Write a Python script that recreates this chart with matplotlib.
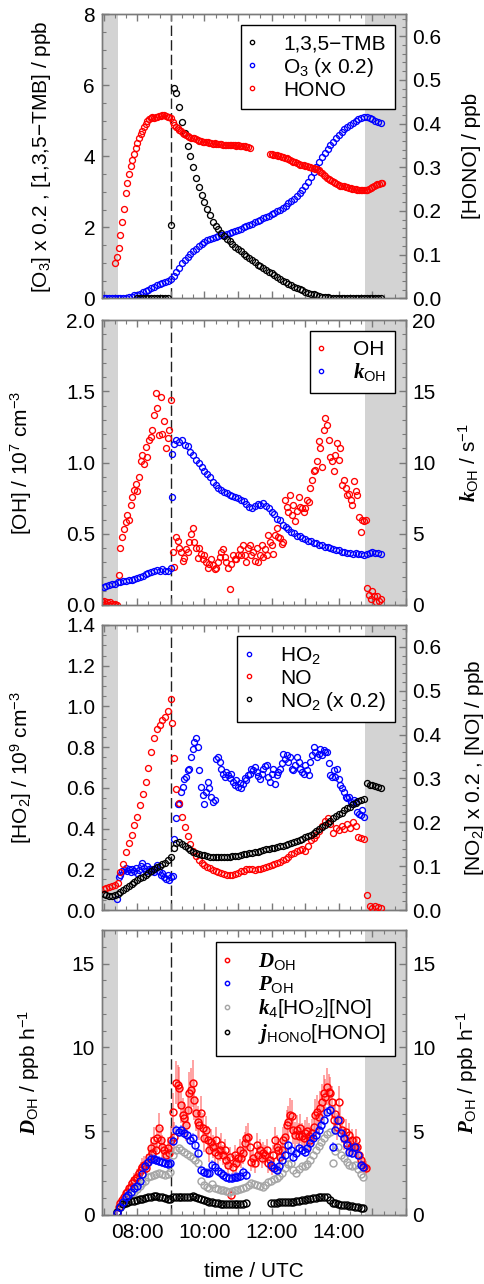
import matplotlib
matplotlib.use('Agg')
import matplotlib.pyplot as plt
import numpy as np
from matplotlib.ticker import MultipleLocator, FuncFormatter, FormatStrFormatter

plt.rcParams['font.family'] = ['Liberation Sans', 'DejaVu Sans']
plt.rcParams['font.size'] = 15
plt.rcParams['mathtext.fontset'] = 'custom'
plt.rcParams['mathtext.rm'] = 'Liberation Sans'
plt.rcParams['mathtext.it'] = 'Liberation Serif:italic:bold'
plt.rcParams['mathtext.bf'] = 'Liberation Sans:bold'

#--------------------------------------------------------------------------
#   Data (time in hours UTC, regular sampling per series)
#--------------------------------------------------------------------------
step5 = 1 / 12      # 5 min
step3 = 0.05        # 3 min

# panel 1 : O3 (x 0.2) and 1,3,5-TMB in ppb, HONO in ppb (right axis)
o3_t0 = 7.0
o3 = [0.00, 0.00, 0.00, 0.00, 0.00, 0.00, 0.00, 0.01, 0.02, 0.03, 0.05, 0.08,
      0.10, 0.13, 0.17, 0.20, 0.24, 0.29, 0.33, 0.37, 0.40, 0.43, 0.46, 0.50,
      0.54, 0.62, 0.74, 0.86, 0.99, 1.09, 1.17, 1.26, 1.33, 1.40, 1.46, 1.52,
      1.58, 1.63, 1.67, 1.71, 1.74, 1.76, 1.78, 1.79, 1.80, 1.83, 1.86, 1.89,
      1.93, 1.96, 2.00, 2.03, 2.07, 2.10, 2.14, 2.18, 2.21, 2.25, 2.29, 2.33,
      2.37, 2.41, 2.45, 2.50, 2.55, 2.61, 2.68, 2.74, 2.81, 2.89, 2.97, 3.06,
      3.16, 3.28, 3.41, 3.55, 3.70, 3.85, 3.97, 4.09, 4.20, 4.31, 4.41, 4.51,
      4.60, 4.68, 4.76, 4.83, 4.89, 4.95, 5.00, 5.05, 5.09, 5.11, 5.10, 5.07,
      5.04, 5.00, 4.97, 4.95]

tmb_t0 = 8.0
tmb = [0, 0, 0, 0, 0, 0, 0, 0, 0, 0, 0, 0,
       2.06, 5.92, 5.78, 5.40, 4.97, 4.66, 4.30, 4.02, 3.70, 3.40, 3.13, 2.92,
       2.70, 2.52, 2.35, 2.16, 2.05, 1.95, 1.85, 1.76, 1.68, 1.60, 1.52, 1.45,
       1.38, 1.32, 1.26, 1.20, 1.14, 1.08, 1.01, 0.95, 0.90, 0.85, 0.80, 0.75,
       0.70, 0.65, 0.60, 0.55, 0.50, 0.45, 0.41, 0.37, 0.33, 0.29, 0.25, 0.22,
       0.19, 0.16, 0.13, 0.11, 0.09, 0.07, 0.05, 0.04, 0.03, 0.02, 0.01, 0.01,
       0.01, 0, 0, 0, 0, 0, 0, 0, 0, 0, 0, 0,
       0, 0, 0, 0]

nan = np.nan
hono_t0 = 7.35
hono = [0.080, 0.095, 0.115, 0.145, 0.175, 0.205, 0.240, 0.265, 0.285, 0.302,
        0.316, 0.330, 0.344, 0.356, 0.366, 0.376, 0.384, 0.391, 0.398, 0.405,
        0.410, 0.413, 0.414, 0.413, 0.415, 0.416, 0.417, 0.418, 0.419, 0.420,
        0.418, 0.416, 0.414, 0.412, 0.404, 0.397, 0.392, 0.389, 0.385, 0.382,
        0.379, 0.376, 0.373, 0.371, 0.369, 0.368, 0.367, 0.366, 0.364, 0.362,
        0.360, 0.359, 0.358, 0.357, 0.358, 0.357, 0.356, 0.355, 0.354, 0.355,
        0.354, 0.353, 0.353, 0.354, 0.352, 0.352, 0.351, 0.352, 0.351, 0.350,
        0.351, 0.350, 0.349, 0.350, 0.349, 0.348, 0.349, 0.348, 0.347, 0.346,
        0.345, nan, nan, nan, nan, nan, nan, nan, nan, nan,
        nan, nan, 0.331, 0.330, 0.329, 0.328, 0.327, 0.326, 0.325, 0.324,
        0.323, 0.322, 0.320, 0.318, 0.317, 0.315, 0.313, 0.311, 0.310, 0.308,
        0.306, 0.305, 0.304, 0.303, 0.302, 0.301, 0.300, 0.299, 0.298, 0.296,
        0.295, 0.293, 0.290, 0.287, 0.283, 0.280, 0.276, 0.272, 0.270, 0.268,
        0.266, 0.264, 0.262, 0.260, 0.258, 0.257, 0.256, 0.255, 0.254, 0.253,
        0.252, 0.251, 0.250, 0.250, 0.249, 0.249, 0.248, 0.248, 0.248, 0.248,
        0.249, 0.250, 0.252, 0.255, 0.257, 0.259, 0.261, 0.262, 0.263, 0.263]

# panel 2 : OH in 1e7 cm-3, kOH in s-1 (right axis)
oh_t0 = 6.95
oh = [0.02, 0.03, 0.01, 0.02, 0.00, 0.02, 0.01, 0.00, 0.01, 0.00,
      0.21, 0.40, 0.48, 0.53, 0.58, 0.63, 0.60, 0.70, 0.76, 0.81,
      0.85, 0.80, 0.90, 1.01, 1.05, 0.99, 1.11, 1.04, 1.16, 1.18,
      1.23, 1.33, 1.49, 1.38, 1.19, 1.46, 1.20, 1.29, 1.10, 1.17,
      1.23, 1.44, 0.37, 0.27, 0.48, 0.45, 0.40, 0.37, 0.31, 0.33,
      0.39, 0.37, 0.44, 0.50, 0.54, 0.44, 0.40, 0.33, 0.40, 0.36,
      0.32, 0.35, 0.30, 0.26, 0.29, 0.32, 0.28, 0.25, 0.26, 0.30,
      0.34, 0.37, 0.39, 0.34, 0.30, 0.26, 0.11, 0.29, 0.35, 0.32,
      0.32, 0.35, 0.39, 0.35, 0.42, 0.35, 0.30, 0.40, 0.42, 0.35,
      0.37, 0.31, 0.40, 0.30, 0.35, 0.42, 0.34, 0.39, 0.35, 0.49,
      0.44, 0.42, 0.36, 0.49, 0.54, 0.48, 0.47, 0.43, 0.44, 0.74,
      0.69, 0.65, 0.77, 0.63, 0.70, 0.59, 0.66, 0.76, 0.69, 0.68,
      0.65, 0.68, 0.74, 0.72, 0.82, 0.88, 0.94, 0.95, 1.01, 1.15,
      1.10, 0.97, 1.23, 1.31, 1.26, 1.16, 1.04, 1.01, 0.94, 1.05,
      1.14, 1.02, 1.10, 0.84, 0.88, 0.82, 0.77, 0.78, 0.74, 0.70,
      0.87, 0.80, 0.77, 0.62, 0.51, 0.60, 0.59, 0.60, 0.12, 0.07,
      0.04, 0.10, 0.06, 0.02, 0.06, 0.03, 0.04]

koh_t0 = 7.0
koh = [1.25, 1.32, 1.38, 1.47, 1.50, 1.58, 1.60, 1.67, 1.68, 1.75, 1.77, 1.84,
       1.90, 1.98, 2.05, 2.16, 2.22, 2.33, 2.36, 2.44, 2.42, 2.50, 2.40, 2.42,
       2.60, 11.30, 11.55, 11.45, 11.60, 11.25, 11.15, 10.75, 10.55, 10.15, 9.95, 9.65,
       9.40, 9.20, 8.95, 8.60, 8.40, 8.20, 8.05, 7.95, 7.85, 7.75, 7.65, 7.55,
       7.50, 7.35, 7.30, 7.10, 6.90, 6.80, 6.95, 7.10, 7.05, 7.15, 6.95, 6.80,
       6.55, 6.40, 6.05, 5.95, 5.60, 5.45, 5.35, 5.10, 5.05, 4.85, 4.85, 4.70,
       4.65, 4.50, 4.48, 4.35, 4.35, 4.22, 4.22, 4.10, 4.08, 3.98, 3.96, 3.85,
       3.85, 3.75, 3.75, 3.66, 3.68, 3.60, 3.62, 3.55, 3.58, 3.52, 3.60, 3.66,
       3.70, 3.62, 3.66, 3.58]
koh_jump_t = [9.02, 9.03]
koh_jump = [7.6, 10.6]

# panel 3 : HO2 in 1e9 cm-3, NO and NO2 (x 0.2) in ppb (right axis)
ho2_t0 = 7.40
ho2 = [0.056, 0.162, 0.170, 0.190, 0.196, 0.205, 0.193, 0.201, 0.188, 0.200,
       0.193, 0.206, 0.180, 0.198, 0.218, 0.231, 0.206, 0.193, 0.218, 0.200,
       0.203, 0.193, 0.186, 0.206, 0.221, 0.193, 0.170, 0.180, 0.162, 0.154,
       0.170, 0.146, 0.162, 0.166, 0.350, 0.450, 0.520, 0.523, 0.580, 0.604,
       0.645, 0.654, 0.687, 0.695, 0.752, 0.793, 0.826, 0.843, 0.802, 0.687,
       0.605, 0.564, 0.523, 0.580, 0.629, 0.597, 0.556, 0.531, 0.540, 0.744,
       0.752, 0.728, 0.695, 0.670, 0.654, 0.679, 0.662, 0.646, 0.670, 0.629,
       0.613, 0.640, 0.605, 0.625, 0.597, 0.621, 0.646, 0.640, 0.662, 0.670,
       0.695, 0.690, 0.702, 0.678, 0.660, 0.645, 0.670, 0.695, 0.705, 0.711,
       0.654, 0.629, 0.670, 0.695, 0.621, 0.662, 0.678, 0.695, 0.720, 0.768,
       0.744, 0.760, 0.728, 0.752, 0.695, 0.687, 0.711, 0.752, 0.728, 0.695,
       0.678, 0.670, 0.711, 0.687, 0.662, 0.728, 0.760, 0.801, 0.776, 0.752,
       0.768, 0.793, 0.760, 0.785, 0.776, 0.776, 0.720, 0.662, 0.654, 0.687,
       0.654, 0.695, 0.645, 0.613, 0.597, 0.580, 0.556, 0.548, 0.556, 0.531,
       0.523, 0.540, 0.530, 0.482, 0.474, 0.466, 0.490, 0.457]

no_t0 = 7.0
no = [0.048, 0.050, 0.053, 0.054, 0.056, 0.062, 0.087, 0.104, 0.133, 0.152, 0.170, 0.195,
      0.212, 0.240, 0.265, 0.291, 0.323, 0.360, 0.393, 0.413, 0.422, 0.433, 0.440, 0.455,
      0.481, 0.347, 0.276, 0.245, 0.213, 0.190, 0.168, 0.150, 0.135, 0.124, 0.114, 0.107,
      0.103, 0.099, 0.095, 0.092, 0.089, 0.086, 0.084, 0.082, 0.080, 0.079, 0.079, 0.082,
      0.085, 0.088, 0.090, 0.093, 0.094, 0.093, 0.092, 0.094, 0.094, 0.096, 0.098, 0.100,
      0.102, 0.104, 0.107, 0.110, 0.114, 0.117, 0.122, 0.127, 0.131, 0.134, 0.137, 0.140,
      0.135, 0.145, 0.160, 0.165, 0.171, 0.180, 0.192, 0.203, 0.209, 0.196, 0.176, 0.186,
      0.182, 0.192, 0.185, 0.197, 0.186, 0.200, 0.192, 0.167, 0.164, 0.163, 0.034, 0.009,
      0.005, 0.008, 0.006, 0.005]
no_jump_t = [9.04]
no_jump = [0.426]

no2_t0 = 7.0
no2 = [0.036, 0.034, 0.033, 0.031, 0.034, 0.037, 0.042, 0.046, 0.050, 0.055, 0.059, 0.064,
       0.068, 0.072, 0.076, 0.080, 0.085, 0.089, 0.093, 0.097, 0.101, 0.105, 0.108, 0.113,
       0.121, 0.142, 0.153, 0.155, 0.150, 0.145, 0.141, 0.137, 0.133, 0.130, 0.128, 0.126,
       0.125, 0.124, 0.122, 0.121, 0.120, 0.120, 0.120, 0.121, 0.121, 0.122, 0.123, 0.123,
       0.124, 0.125, 0.127, 0.128, 0.130, 0.131, 0.132, 0.133, 0.135, 0.136, 0.138, 0.140,
       0.141, 0.142, 0.144, 0.145, 0.147, 0.148, 0.150, 0.152, 0.155, 0.157, 0.160, 0.163,
       0.166, 0.169, 0.172, 0.176, 0.180, 0.184, 0.189, 0.194, 0.199, 0.204, 0.209, 0.214,
       0.218, 0.222, 0.227, 0.232, 0.236, 0.241, 0.245, 0.248, 0.251, 0.253, 0.289, 0.286,
       0.284, 0.282, 0.280, 0.279]

# panel 4 : OH budget terms in ppb h-1
doh_t0 = 7.40
doh = [0.10, 0.50, 0.70, 0.90, 1.09, 1.29, 1.39, 1.59, 1.69, 1.89,
       2.09, 2.19, 2.29, 2.49, 2.68, 2.88, 2.98, 2.78, 3.08, 3.48,
       3.98, 3.68, 4.48, 3.88, 4.57, 5.17, 4.48, 4.08, 3.88, 3.58,
       3.98, 3.68, 4.50, 6.17, 4.67, 7.90, 7.76, 7.56, 6.56, 5.97,
       5.77, 5.37, 6.27, 7.26, 7.46, 7.86, 6.86, 6.07, 5.57, 5.37,
       6.07, 5.17, 4.57, 5.07, 4.48, 3.88, 4.38, 4.08, 3.78, 4.48,
       3.58, 3.88, 4.18, 3.58, 3.88, 3.28, 2.98, 3.48, 1.19, 2.88,
       3.58, 3.08, 3.38, 3.88, 3.38, 3.68, 4.28, 4.57, 4.67, 4.08,
       3.18, 3.38, 3.08, 4.18, 3.58, 3.88, 3.38, 3.68, 3.60, 3.88,
       3.08, 3.28, 2.88, 3.58, 4.48, 4.08, 3.88, 3.48, 3.88, 4.48,
       4.67, 5.37, 5.57, 5.97, 5.90, 5.07, 4.77, 5.10, 4.70, 5.17,
       4.70, 4.57, 4.87, 5.00, 4.70, 4.48, 4.90, 5.27, 5.97, 6.17,
       5.87, 6.37, 6.76, 7.26, 7.06, 7.66, 7.36, 7.26, 6.76, 5.67,
       6.00, 5.27, 6.76, 5.67, 5.07, 4.57, 4.97, 4.28, 4.77, 4.08,
       4.48, 4.08, 4.48, 4.08, 3.58, 3.28, 2.98, 2.88, 2.80]
doh_err = [0.20, 0.25, 0.25, 0.30, 0.30, 0.30, 0.35, 0.35, 0.35, 0.40,
           0.40, 0.40, 0.45, 0.45, 0.50, 0.50, 0.55, 0.50, 0.55, 0.60,
           0.70, 0.60, 0.75, 0.65, 0.80, 0.90, 0.75, 0.70, 0.65, 0.60,
           0.70, 0.65, 0.80, 1.10, 0.85, 1.30, 1.20, 1.25, 1.10, 1.00,
           1.00, 0.95, 1.10, 1.25, 1.30, 1.40, 1.20, 1.05, 0.95, 0.90,
           1.05, 0.90, 0.80, 0.85, 0.80, 0.70, 0.75, 0.70, 0.65, 0.75,
           0.60, 0.65, 0.70, 0.60, 0.65, 0.55, 0.55, 0.60, 0.30, 0.50,
           0.60, 0.55, 0.60, 0.65, 0.60, 0.65, 0.70, 0.75, 0.80, 0.70,
           0.55, 0.60, 0.55, 0.70, 0.60, 0.65, 0.60, 0.65, 0.60, 0.65,
           0.55, 0.55, 0.50, 0.60, 0.75, 0.70, 0.65, 0.60, 0.65, 0.75,
           0.80, 0.90, 0.95, 1.00, 0.95, 0.85, 0.80, 0.85, 0.80, 0.85,
           0.80, 0.75, 0.80, 0.85, 0.80, 0.75, 0.80, 0.85, 0.95, 1.00,
           0.95, 1.00, 1.05, 1.10, 1.05, 1.10, 1.05, 1.00, 0.95, 0.85,
           0.90, 0.80, 0.95, 0.85, 0.80, 0.70, 0.75, 0.65, 0.70, 0.60,
           0.65, 0.60, 0.65, 0.60, 0.55, 0.50, 0.45, 0.45, 0.40]

poh_t0 = 7.40
poh = [0.10, 0.45, 0.80, 1.05, 1.20, 1.40, 1.60, 1.75, 2.05, 2.45, 2.95, 3.15,
       3.35, 3.35, 3.30, 3.20, 3.15, 3.10, 3.05, 3.10, 4.40, 5.07, 4.97, 5.05,
       4.90, 4.77, 4.48, 4.57, 4.18, 3.68, 2.68, 2.58, 2.50, 2.49, 2.98, 2.88,
       2.60, 2.49, 2.39, 2.29, 2.19, 2.22, 2.25, 2.28, 2.32, 2.58, 2.39, nan,
       nan, nan, nan, nan, nan, nan, nan, 2.98, 2.78, 2.68, 2.95, 3.28,
       3.58, 4.18, 3.88, 3.48, 3.68, 3.98, 3.85, 3.78, 3.98, 4.28, 4.57, 4.77,
       5.07, 5.37, 5.67, 6.17, 6.27, 4.08, 5.07, 5.67, 4.87, 4.57, 4.20, 3.78,
       3.68, 4.08, 3.58, 2.98, 2.88]
poh_err = 0.3

k4_t0 = 7.40
k4_ho2_no = [0.20, 0.45, 0.65, 0.85, 1.05, 1.25, 1.40, 1.55, 1.72, 1.90, 2.05, 2.25,
             2.32, 2.39, 2.45, 2.49, 2.45, 2.39, 2.45, 2.55, 3.58, 3.85, 3.98, 3.88,
             3.75, 3.66, 3.50, 3.40, 3.30, 3.10, 2.05, 1.80, 1.69, 1.60, 1.85, 1.60,
             1.55, 1.49, 1.47, 1.42, 1.39, 1.45, 1.50, 1.48, 1.55, 1.62, 1.70, 1.80,
             1.89, 1.85, 1.78, 1.72, 1.69, 1.80, 1.99, 2.05, 2.15, 2.20, 2.35, 2.49,
             2.80, 3.05, 3.10, 2.68, 2.49, 2.75, 2.95, 2.90, 3.05, 3.30, 3.58, 3.85,
             4.10, 4.35, 4.60, 4.85, 4.97, 3.10, 3.80, 4.05, 3.60, 3.40, 3.18, 3.00,
             2.92, 3.00, 2.75, 2.45, 2.29]

jhono_t0 = 7.40
jhono_hono = [0.20, 0.50, 0.64, 0.72, 0.78, 0.81, 0.86, 0.89, 0.94, 0.97, 1.01, 1.05,
              1.09, 1.12, 1.14, 1.10, 1.05, 1.00, 0.94, 0.95, 1.05, 1.09, 1.10, 1.07,
              1.05, 1.08, 1.10, 1.13, 1.08, 1.00, 0.95, 0.88, 0.84, 0.80, 0.76, 0.72,
              0.70, 0.68, 0.66, 0.65, 0.64, 0.64, 0.64, 0.65, 0.66, 0.68, 0.70, nan,
              nan, nan, nan, nan, nan, nan, nan, 0.70, 0.72, 0.74, 0.76, 0.78,
              0.80, 0.80, 0.79, 0.80, 0.82, 0.85, 0.88, 0.90, 0.93, 0.96, 1.00, 1.04,
              1.06, 1.08, 1.09, 1.10, 0.90, 0.72, 0.70, 0.66, 0.62, 0.60, 0.58, 0.55,
              0.52, 0.48, 0.45, 0.42, 0.40]

# time frame of the experiment
xlim = (6.95, 16.0)
roof_closed = [(6.95, 7.42), (14.78, 16.0)]
t_injection = 9.0


def t_axis(t0, dt, values):
    return t0 + dt * np.arange(len(values))


#--------------------------------------------------------------------------
#   Figure layout (pixels of the 485 x 1284 image)
#--------------------------------------------------------------------------
fig = plt.figure(figsize=(4.85, 12.84), dpi=100)
left, width = 102 / 485, 304 / 485
boxes = [(298.3, 284), (605, 285), (910, 285), (1215, 285)]
axes = [fig.add_axes([left, (1284 - b) / 1284, width, h / 1284]) for b, h in boxes]
twins = [ax.twinx() for ax in axes]

FRAME = '#7a7a7a'
RED, BLUE, GREY = '#ff0000', '#0000ff', '#a6a6a6'


def circles(ax, t, y, color, ms=4.3, mew=0.95, z=3):
    return ax.plot(t, y, 'o', ls='none', mfc='none', mec=color, ms=ms, mew=mew,
                   zorder=z)[0]


def time_label(x, pos):
    h = int(round(x))
    return '%02d:00' % h if h % 2 == 0 and 8 <= h <= 14 else ''


def style(ax, tw, ylim_l, ylim_r, ticks_l, ticks_r, fmt_l, fmt_r, bottom):
    ax.set_xlim(*xlim)
    ax.set_ylim(*ylim_l)
    tw.set_ylim(*ylim_r)
    for sp in list(ax.spines.values()) + list(tw.spines.values()):
        sp.set_color(FRAME)
        sp.set_linewidth(1.0)

    ax.xaxis.set_major_locator(MultipleLocator(1))
    ax.xaxis.set_minor_locator(MultipleLocator(1 / 3))
    ax.xaxis.set_major_formatter(FuncFormatter(time_label))
    ax.yaxis.set_major_locator(MultipleLocator(ticks_l[0]))
    ax.yaxis.set_minor_locator(MultipleLocator(ticks_l[1]))
    ax.yaxis.set_major_formatter(FormatStrFormatter(fmt_l))
    tw.yaxis.set_major_locator(MultipleLocator(ticks_r[0]))
    tw.yaxis.set_minor_locator(MultipleLocator(ticks_r[1]))
    tw.yaxis.set_major_formatter(FormatStrFormatter(fmt_r))

    ax.tick_params(axis='x', which='both', direction='in', top=True, bottom=True,
                   color=FRAME, labelbottom=bottom, pad=6, labelsize=15)
    ax.tick_params(axis='y', which='both', direction='in', left=True, right=False,
                   color=FRAME, pad=5, labelsize=15)
    tw.tick_params(axis='y', which='both', direction='in', right=True, left=False,
                   color=FRAME, pad=4.5, labelsize=15)
    for a in (ax, tw):
        a.tick_params(which='major', length=5, width=1.0)
        a.tick_params(which='minor', length=3, width=0.8)

    for a, b in roof_closed:
        ax.axvspan(a, b, color='#d3d3d3', lw=0, zorder=0)
    ax.axvline(t_injection, color='#202020', lw=1.0, dashes=(7.5, 3.0), zorder=1)


def legend(ax, handles, labels, top, mscale=0.72):
    leg = ax.legend(handles, labels, loc='upper right', bbox_to_anchor=(0.964, top),
                    fancybox=False, framealpha=1, edgecolor='black', borderpad=0.45,
                    borderaxespad=0, handlelength=0.2, handletextpad=1.39,
                    labelspacing=0.1, markerscale=mscale, fontsize=15)
    leg.get_frame().set_linewidth(1.0)
    leg.set_zorder(10)


#--------------------------------------------------------------------------
#   Panel 1
#--------------------------------------------------------------------------
ax, tw = axes[0], twins[0]
style(ax, tw, (0, 8), (0, 0.65), (2, 0.5), (0.1, 0.02), '%d', '%.1f', False)
h_o3 = circles(ax, t_axis(o3_t0, step5, o3), o3, BLUE)
h_tmb = circles(ax, t_axis(tmb_t0, step5, tmb), tmb, 'black')
h_hono = circles(tw, t_axis(hono_t0, step3, hono), hono, RED)
ax.set_ylabel('[O$_3$] x 0.2 , [1,3,5\u2212TMB] / ppb')
tw.set_ylabel('[HONO] / ppb')
ax.yaxis.set_label_coords(-0.161, 0.5)
tw.yaxis.set_label_coords(1.184, 0.5)
legend(tw, [h_tmb, h_o3, h_hono], ['1,3,5\u2212TMB', 'O$_3$ (x 0.2)', 'HONO'], 0.962)

#--------------------------------------------------------------------------
#   Panel 2
#--------------------------------------------------------------------------
ax, tw = axes[1], twins[1]
style(ax, tw, (0, 2.0), (0, 20), (0.5, 0.1), (5, 1), '%.1f', '%d', False)
h_oh = circles(ax, t_axis(oh_t0, step3, oh), oh, RED)
h_koh = circles(tw, t_axis(koh_t0, step5, koh), koh, BLUE)
circles(tw, koh_jump_t, koh_jump, BLUE)
ax.set_ylabel('[OH] / 10$^7$ cm$^{-3}$')
tw.set_ylabel(r'$\mathit{k}_{\mathrm{OH}}$ / s$^{-1}$')
ax.yaxis.set_label_coords(-0.225, 0.5)
tw.yaxis.set_label_coords(1.168, 0.5)
legend(tw, [h_oh, h_koh], ['OH', r'$\mathit{k}_{\mathrm{OH}}$'], 0.962)

#--------------------------------------------------------------------------
#   Panel 3
#--------------------------------------------------------------------------
ax, tw = axes[2], twins[2]
style(ax, tw, (0, 1.4), (0, 0.65), (0.2, 0.05), (0.1, 0.02), '%.1f', '%.1f', False)
h_ho2 = circles(ax, t_axis(ho2_t0, step3, ho2), ho2, BLUE)
h_no = circles(tw, t_axis(no_t0, step5, no), no, RED)
circles(tw, no_jump_t, no_jump, RED)
h_no2 = circles(tw, t_axis(no2_t0, step5, no2), no2, 'black')
ax.set_ylabel('[HO$_2$] / 10$^9$ cm$^{-3}$')
tw.set_ylabel('[NO$_2$] x 0.2 , [NO] / ppb')
ax.yaxis.set_label_coords(-0.225, 0.5)
tw.yaxis.set_label_coords(1.188, 0.5)
legend(tw, [h_ho2, h_no, h_no2], ['HO$_2$', 'NO', 'NO$_2$ (x 0.2)'], 0.961)

#--------------------------------------------------------------------------
#   Panel 4
#--------------------------------------------------------------------------
ax, tw = axes[3], twins[3]
style(ax, tw, (0, 17), (0, 17), (5, 1), (5, 1), '%d', '%d', True)
t_doh = t_axis(doh_t0, step3, doh)
t_poh = t_axis(poh_t0, step5, poh)
ax.errorbar(t_doh, doh, yerr=doh_err, fmt='none', ecolor='#ff4a4a', elinewidth=1.1,
            alpha=0.65, zorder=2)
h_doh = circles(ax, t_doh, doh, RED, ms=5.0, mew=1.05)
ax.errorbar(t_poh, poh, yerr=poh_err, fmt='none', ecolor='#4a4aff', elinewidth=1.1,
            alpha=0.65, zorder=3)
h_poh = circles(ax, t_poh, poh, BLUE, ms=5.0, mew=1.05, z=4)
h_k4 = circles(ax, t_axis(k4_t0, step5, k4_ho2_no), k4_ho2_no, GREY, ms=5.0, mew=1.05)
h_jh = circles(ax, t_axis(jhono_t0, step5, jhono_hono), jhono_hono, 'black', ms=5.0, mew=1.05)
ax.set_ylabel(r'$\mathit{D}_{\mathrm{OH}}$ / ppb h$^{-1}$')
tw.set_ylabel(r'$\mathit{P}_{\mathrm{OH}}$ / ppb h$^{-1}$')
ax.yaxis.set_label_coords(-0.198, 0.5)
tw.yaxis.set_label_coords(1.161, 0.5)
ax.set_xlabel('time / UTC')
ax.xaxis.set_label_coords(0.5, -0.165)
legend(tw, [h_doh, h_poh, h_k4, h_jh],
       [r'$\mathit{D}_{\mathrm{OH}}$', r'$\mathit{P}_{\mathrm{OH}}$',
        r'$\mathit{k}_4$[HO$_2$][NO]', r'$\mathit{j}_{\mathrm{HONO}}$[HONO]'], 0.959,
       mscale=0.62)

fig.savefig('out.png', dpi=100)
